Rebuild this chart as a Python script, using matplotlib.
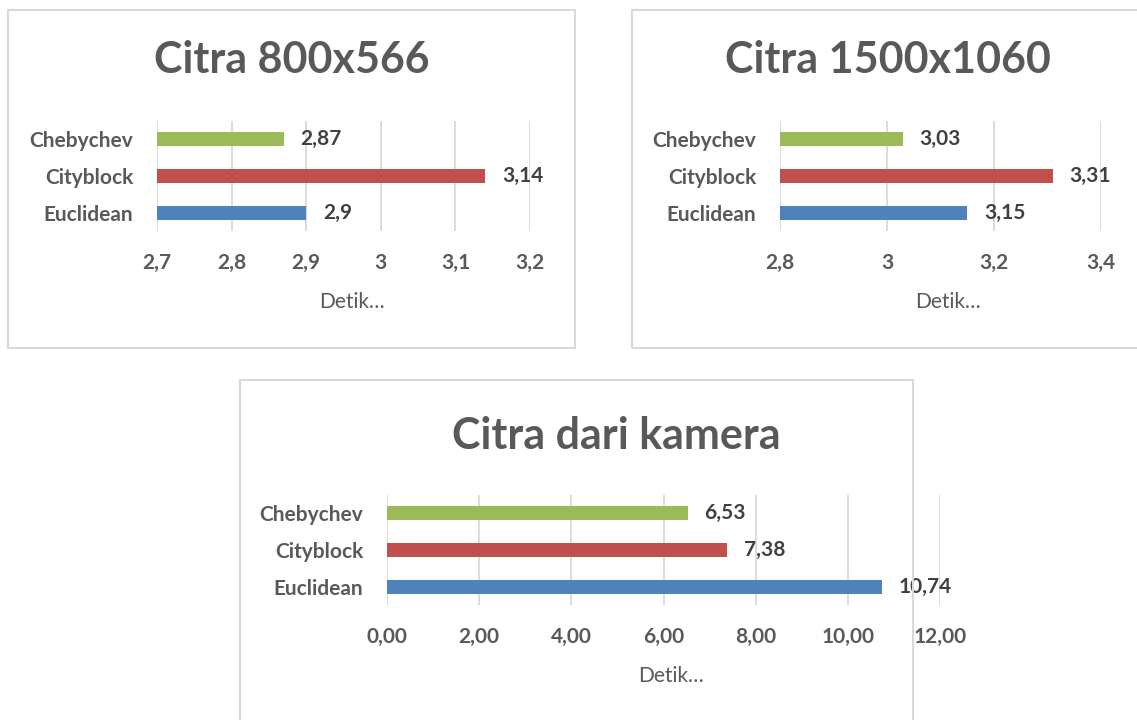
import matplotlib
matplotlib.use("Agg")
import matplotlib.pyplot as plt
from matplotlib.patches import Rectangle
from matplotlib.ticker import FuncFormatter

plt.rcParams['font.family'] = ['Lato', 'DejaVu Sans']

categories = ["Euclidean", "Cityblock", "Chebychev"]
colors = ["#4F81BD", "#C0504D", "#9BBB59"]

titles = ["Citra 800x566", "Citra 1500x1060", "Citra dari kamera"]
values_800 = [2.9, 3.14, 2.87]
values_1500 = [3.15, 3.31, 3.03]
values_cam = [10.74, 7.38, 6.53]
labels_800 = ["2,9", "3,14", "2,87"]
labels_1500 = ["3,15", "3,31", "3,03"]
labels_cam = ["10,74", "7,38", "6,53"]
ticks_800 = [2.7, 2.8, 2.9, 3.0, 3.1, 3.2]
ticks_1500 = [2.8, 3.0, 3.2, 3.4]
ticks_cam = [0, 2, 4, 6, 8, 10, 12]
xlabel = "Detik…"

W, H = 1137, 720
fig = plt.figure(figsize=(W / 100, H / 100), dpi=100)
fig.patch.set_facecolor("white")

def px_rect(x0, y0, x1, y1):
    return [x0 / W, 1 - y1 / H, (x1 - x0) / W, (y1 - y0) / H]

# panel borders
for (x0, y0, x1, y1) in [(8, 10, 575, 348), (632, 10, 1145, 348), (240, 380, 913, 730)]:
    fig.patches.append(Rectangle((x0 / W, 1 - y1 / H), (x1 - x0) / W, (y1 - y0) / H,
                                 transform=fig.transFigure, fill=False,
                                 edgecolor="#D9D9D9", linewidth=1.5))

def fmt_comma(dec):
    def f(v, pos):
        if dec is None:
            s = ("%.1f" % v).rstrip("0").rstrip(".")
        else:
            s = "%.*f" % (dec, v)
        return s.replace(".", ",")
    return FuncFormatter(f)

def make_panel(rect, vals, labs, ticks, dec, title, title_xy, xlabel_xy):
    ax = fig.add_axes(px_rect(*rect))
    y = list(range(len(categories)))
    ax.barh(y, vals, height=0.38, color=colors, zorder=3)
    ax.set_xlim(ticks[0], ticks[-1])
    ax.set_ylim(-0.5, 2.5)
    ax.set_xticks(ticks)
    ax.xaxis.set_major_formatter(fmt_comma(dec))
    ax.set_yticks(y)
    ax.set_yticklabels(categories)
    for lab in ax.get_xticklabels() + ax.get_yticklabels():
        lab.set_fontweight("bold")
        lab.set_fontsize(15)
        lab.set_color("#595959")
    ax.tick_params(axis="x", length=0, pad=16)
    ax.tick_params(axis="y", length=0, pad=17)
    ax.grid(axis="x", color="#D9D9D9", linewidth=1.3, zorder=0)
    for s in ax.spines.values():
        s.set_visible(False)
    ax.set_facecolor("none")
    for yi, v, l in zip(y, vals, labs):
        ax.annotate(l, (v, yi), xytext=(12, 0), textcoords="offset points",
                    ha="left", va="center", fontsize=15, fontweight="bold",
                    color="#404040", zorder=5)
    fig.text(title_xy[0] / W, 1 - title_xy[1] / H, title, ha="center", va="center",
             fontsize=31, fontweight="bold", color="#595959")
    fig.text(xlabel_xy[0] / W, 1 - xlabel_xy[1] / H, xlabel, ha="center", va="center",
             fontsize=15, color="#595959")
    return ax

make_panel((157, 121, 530, 231), values_800, labels_800, ticks_800, None,
           titles[0], (292, 60), (352, 302))
make_panel((780, 121, 1101, 231), values_1500, labels_1500, ticks_1500, None,
           titles[1], (888, 60), (948, 302))
make_panel((387, 495, 940, 605), values_cam, labels_cam, ticks_cam, 2,
           titles[2], (616, 436), (671, 676))

fig.savefig("out.png", dpi=100, facecolor="white")
